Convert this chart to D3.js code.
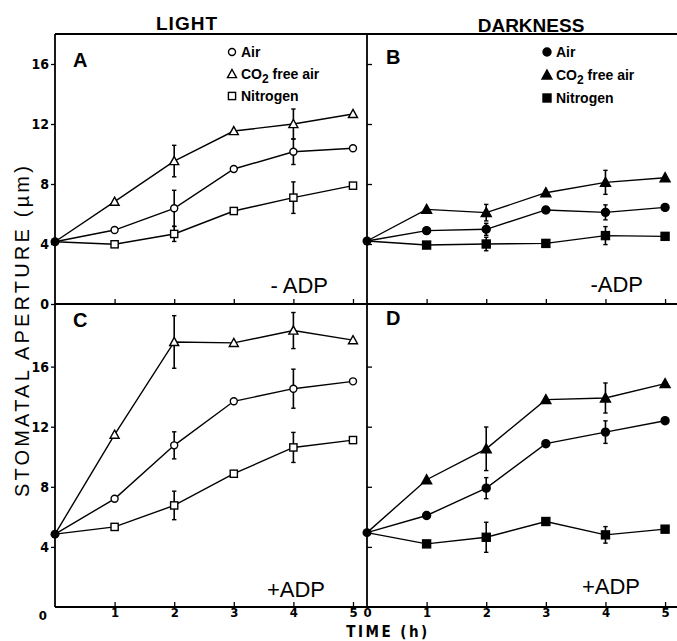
<!DOCTYPE html>
<html><head><meta charset="utf-8">
<script src="https://cdn.jsdelivr.net/npm/d3@7"></script>
<style>body{margin:0;background:#fff}svg{display:block}</style>
</head><body>
<svg id="c" width="677" height="641"></svg>
<script>
// ---------- data ----------
const hours = [0, 1, 2, 3, 4, 5];
const yTickValues = [0, 4, 8, 12, 16];
const xTickValues = [1, 2, 3, 4, 5];
const xTickValuesRight = [0, 1, 2, 3, 4, 5];
const seriesNames = ["Air", "CO2 free air", "Nitrogen"];
const columnTitles = ["LIGHT", "DARKNESS"];
const panelLetters = ["A", "B", "C", "D"];
const treatmentLabels = ["- ADP", "-ADP", "+ADP", "+ADP"];

// Panel A: light, -ADP
const airA = [4.15, 4.93, 6.38, 9.0, 10.15, 10.38];
const airAErr = [0, 0, 1.2, 0, 0.85, 0];
const co2A = [4.15, 6.82, 9.53, 11.53, 12.0, 12.67];
const co2AErr = [0, 0, 1.05, 0, 1.0, 0];
const n2A = [4.15, 3.98, 4.67, 6.2, 7.09, 7.89];
const n2AErr = [0, 0, 0.5, 0, 1.05, 0];
// Panel B: darkness, -ADP
const airB = [4.2, 4.89, 4.98, 6.27, 6.11, 6.44];
const airBErr = [0, 0, 0.4, 0, 0.5, 0];
const co2B = [4.2, 6.31, 6.09, 7.42, 8.11, 8.42];
const co2BErr = [0, 0, 0.55, 0, 0.8, 0];
const n2B = [4.2, 3.93, 4.0, 4.04, 4.56, 4.51];
const n2BErr = [0, 0, 0.45, 0, 0.6, 0];
// Panel C: light, +ADP
const airC = [4.85, 7.2, 10.76, 13.69, 14.53, 15.02];
const airCErr = [0, 0, 0.9, 0, 1.3, 0];
const co2C = [4.85, 11.47, 17.64, 17.58, 18.4, 17.76];
const co2CErr = [0, 0, 1.75, 0, 1.2, 0];
const n2C = [4.85, 5.33, 6.76, 8.87, 10.62, 11.11];
const n2CErr = [0, 0, 0.95, 0, 1.0, 0];
// Panel D: darkness, +ADP
const airD = [4.95, 6.09, 7.91, 10.87, 11.64, 12.4];
const airDErr = [0, 0, 0.7, 0, 0.75, 0];
const co2D = [4.95, 8.47, 10.53, 13.8, 13.91, 14.87];
const co2DErr = [0, 0, 1.45, 0, 1.0, 0];
const n2D = [4.95, 4.2, 4.64, 5.69, 4.8, 5.18];
const n2DErr = [0, 0, 1.0, 0, 0.55, 0];

// ---------- layout ----------
const svg = d3.select("#c");
const X0 = 55, XM = 367, XR = 677;
const YT = 34, YM = 304, YB = 607;
const xL = d3.scaleLinear().domain([0, 5.235]).range([X0, XM]);
const xR = d3.scaleLinear().domain([0, 5.2]).range([XM, XR]);
const yTop = d3.scaleLinear().domain([0, 18]).range([YM, YT]);
const yBot = d3.scaleLinear().domain([0, 20.1]).range([YB, YM + 1]);

const tickFont = "'Liberation Sans Narrow','DejaVu Sans Condensed',sans-serif";
const textFont = "'Liberation Sans',Arial,sans-serif";
const LW = 1.4;

// frame lines
const frame = svg.append("g").attr("stroke", "#000").attr("stroke-width", 1.8);
frame.append("line").attr("x1", X0).attr("x2", X0).attr("y1", YT).attr("y2", YB);
frame.append("line").attr("x1", XM).attr("x2", XM).attr("y1", YT).attr("y2", YB);
frame.append("line").attr("x1", X0).attr("x2", XR).attr("y1", YT).attr("y2", YT);
frame.append("line").attr("x1", X0).attr("x2", XR).attr("y1", YM).attr("y2", YM);
frame.append("line").attr("x1", X0).attr("x2", XR).attr("y1", YB).attr("y2", YB);

function styleAxis(g, size = 14) {
  g.select(".domain").remove();
  g.selectAll(".tick line").attr("stroke", "#000").attr("stroke-width", 1.3);
  g.selectAll(".tick text").attr("font-family", tickFont).attr("font-weight", "bold")
    .attr("font-size", size).attr("fill", "#000");
}

// left y axes (outer)
const gA = svg.append("g").attr("transform", `translate(${X0},0)`)
  .call(d3.axisLeft(yTop).tickValues(yTickValues).tickSize(4).tickPadding(2).tickFormat(d3.format("d")));
styleAxis(gA);
const gC = svg.append("g").attr("transform", `translate(${X0},0)`)
  .call(d3.axisLeft(yBot).tickValues(yTickValues).tickSize(4).tickPadding(2).tickFormat(d3.format("d")));
styleAxis(gC);
gC.selectAll(".tick").filter(d => d === 0).select("text").attr("dy", "0.95em").attr("x", -8).attr("font-size", 13);
gC.selectAll(".tick").filter(d => d === 0).select("line").remove();

// inner y ticks on the shared line (pointing into right panels)
const gB = svg.append("g").attr("transform", `translate(${XM},0)`)
  .call(d3.axisRight(yTop).tickValues(yTickValues.slice(1)).tickSize(5).tickFormat(""));
styleAxis(gB);
const gD = svg.append("g").attr("transform", `translate(${XM},0)`)
  .call(d3.axisRight(yBot).tickValues(yTickValues.slice(1)).tickSize(5).tickFormat(""));
styleAxis(gD);

// x ticks (inward, pointing up)
[[xL, YM], [xR, YM], [xL, YB], [xR, YB]].forEach(([sx, yy]) => {
  const g = svg.append("g").attr("transform", `translate(0,${yy})`)
    .call(d3.axisTop(sx).tickValues(xTickValues).tickSize(5).tickFormat(""));
  styleAxis(g);
});
// x tick labels below bottom
const gxl = svg.append("g").attr("transform", `translate(0,${YB})`)
  .call(d3.axisBottom(xL).tickValues(xTickValues).tickSize(0).tickPadding(1).tickFormat(d3.format("d")));
styleAxis(gxl, 13);
const gxr = svg.append("g").attr("transform", `translate(0,${YB})`)
  .call(d3.axisBottom(xR).tickValues(xTickValuesRight).tickSize(0).tickPadding(1).tickFormat(d3.format("d")));
styleAxis(gxr, 13);

// ---------- markers ----------
function marker(g, type, filled, cx, cy) {
  const fill = filled ? "#000" : "#fff";
  if (type === 0) {
    g.append("circle").attr("cx", cx).attr("cy", cy).attr("r", filled ? 4 : 3.5)
      .attr("fill", fill).attr("stroke", "#000").attr("stroke-width", LW);
  } else if (type === 1) {
    const s = filled ? 5 : 4.5;
    g.append("path").attr("d", `M${cx},${cy - s}L${cx + s},${cy + s * 0.8}L${cx - s},${cy + s * 0.8}Z`)
      .attr("fill", fill).attr("stroke", "#000").attr("stroke-width", LW);
  } else {
    const s = filled ? 4 : 3.6;
    g.append("rect").attr("x", cx - s).attr("y", cy - s).attr("width", 2 * s).attr("height", 2 * s)
      .attr("fill", fill).attr("stroke", "#000").attr("stroke-width", LW);
  }
}

function drawPanel(sx, sy, series, errs, filled) {
  const g = svg.append("g");
  const line = d3.line().x((d, i) => sx(hours[i])).y(d => sy(d));
  series.forEach((vals, k) => {
    g.append("path").attr("d", line(vals)).attr("fill", "none")
      .attr("stroke", "#000").attr("stroke-width", LW);
  });
  series.forEach((vals, k) => {
    errs[k].forEach((e, i) => {
      if (!e) return;
      const cx = sx(hours[i]);
      const y1 = sy(vals[i] + e), y2 = sy(vals[i] - e);
      g.append("line").attr("x1", cx).attr("x2", cx).attr("y1", y1).attr("y2", y2)
        .attr("stroke", "#000").attr("stroke-width", 1.6);
      [y1, y2].forEach(yy => g.append("line").attr("x1", cx - 2.2).attr("x2", cx + 2.2)
        .attr("y1", yy).attr("y2", yy).attr("stroke", "#000").attr("stroke-width", 1.4));
    });
  });
  series.forEach((vals, k) => {
    vals.forEach((v, i) => {
      if (i === 0) return;
      marker(g, k, filled, sx(hours[i]), sy(v));
    });
  });
  // common starting point (filled dot)
  g.append("circle").attr("cx", sx(hours[0])).attr("cy", sy(series[0][0])).attr("r", 4.5).attr("fill", "#000");
}

drawPanel(xL, yTop, [airA, co2A, n2A], [airAErr, co2AErr, n2AErr], false);
drawPanel(xR, yTop, [airB, co2B, n2B], [airBErr, co2BErr, n2BErr], true);
drawPanel(xL, yBot, [airC, co2C, n2C], [airCErr, co2CErr, n2CErr], false);
drawPanel(xR, yBot, [airD, co2D, n2D], [airDErr, co2DErr, n2DErr], true);

// ---------- text ----------
function txt(x, y, s, size, opts = {}) {
  return svg.append("text").attr("x", x).attr("y", y).text(s)
    .attr("font-family", opts.family || textFont).attr("font-size", size)
    .attr("font-weight", opts.weight || "normal")
    .attr("text-anchor", opts.anchor || "start")
    .attr("letter-spacing", opts.ls || 0).attr("fill", "#000");
}
txt(187, 30, columnTitles[0], 19, { anchor: "middle", ls: 1, weight: 600 });
txt(531, 32, columnTitles[1], 19, { anchor: "middle", weight: 600 });

txt(73, 67, panelLetters[0], 20, { weight: 600 });
txt(386, 64, panelLetters[1], 20, { weight: 600 });
txt(73, 327, panelLetters[2], 20, { weight: 600 });
txt(386, 325, panelLetters[3], 20, { weight: 600 });

txt(328, 293, treatmentLabels[0], 22, { anchor: "end" });
txt(643, 292, treatmentLabels[1], 22, { anchor: "end" });
txt(325, 597, treatmentLabels[2], 22, { anchor: "end" });
txt(640, 594, treatmentLabels[3], 22, { anchor: "end" });

// legends
function legend(mx, tx, ys, filled) {
  const g = svg.append("g");
  seriesNames.forEach((name, k) => {
    marker(g, k, filled, mx, ys[k]);
    const t = g.append("text").attr("x", tx).attr("y", ys[k] + 5)
      .attr("font-family", textFont).attr("font-size", 14).attr("font-weight", "bold").attr("fill", "#000");
    if (name.startsWith("CO2")) {
      t.append("tspan").text("CO");
      t.append("tspan").text("2").attr("font-size", 12).attr("dy", 4);
      t.append("tspan").text(name.slice(3)).attr("dy", -4);
    } else {
      t.text(name);
    }
  });
}
legend(232, 241, [52, 74, 96], false);
legend(547, 556, [52, 75, 98], true);

// axis titles
svg.append("text").attr("transform", "translate(29,330) rotate(-90)")
  .attr("text-anchor", "middle").attr("font-family", textFont).attr("font-size", 20)
  .attr("letter-spacing", 3.2).attr("fill", "#000").text("STOMATAL APERTURE (\u00b5m)");
txt(388, 637, "TIME (h)", 15, { anchor: "middle", weight: "bold", ls: 2.5, family: tickFont });
</script>
</body></html>
